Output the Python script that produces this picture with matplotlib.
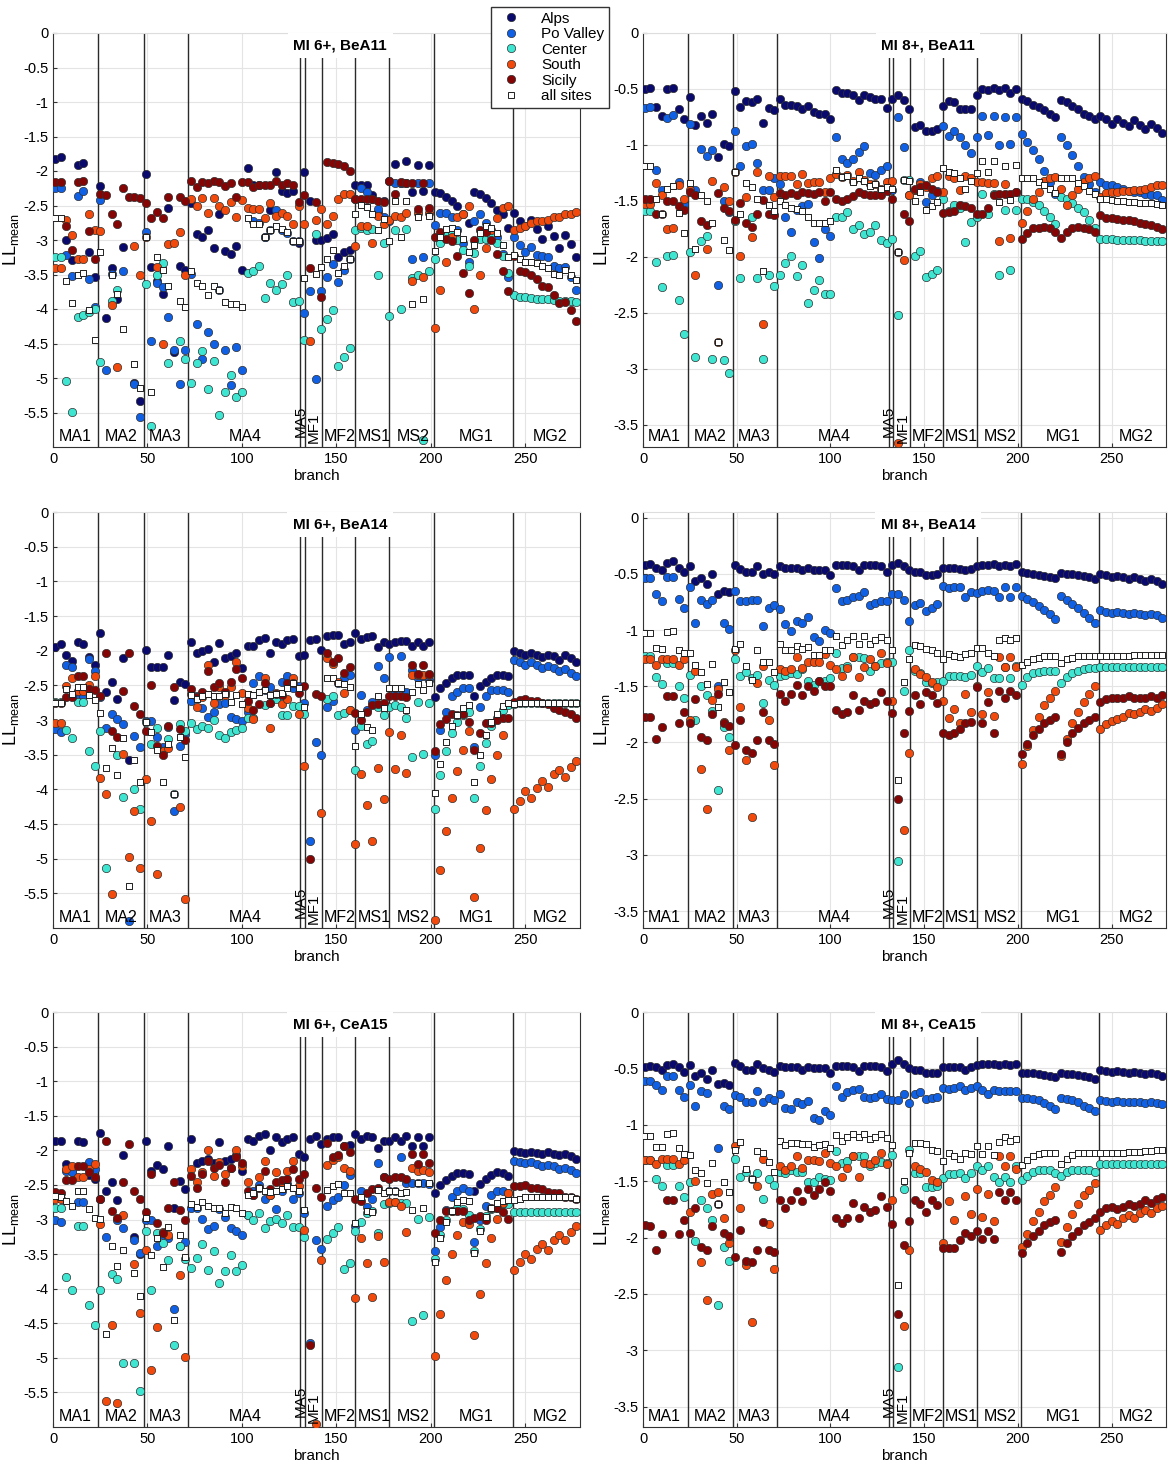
import numpy as np
import matplotlib.pyplot as plt
from matplotlib.lines import Line2D
from matplotlib.ticker import FuncFormatter

nan = np.nan

# branch positions where the log-likelihoods are plotted
branch = np.arange(1, 280, 3)

regions = ['Alps', 'Po Valley', 'Center', 'South', 'Sicily', 'all sites']
region_colors = ['#0a0a6e', '#1060e6', '#3ee6d2', '#f24a0c', '#850505']

group_edges = [24, 48, 71.5, 131, 133.5, 142.5, 160, 178, 201.5, 243.5]
group_names = ['MA1', 'MA2', 'MA3', 'MA4', 'MF2', 'MS1', 'MS2', 'MG1', 'MG2']
group_centers = [11.5, 36, 59.5, 102, 152, 170, 190.5, 224, 263]

# ---------------- MI 6+, BeA11 ----------------
alps_6_bea11 = [-1.83, -1.80, -3.00, -3.29, -1.91, -1.89, -3.18, -3.54,
                -2.22, -4.13, -3.41, -3.85, -3.10, nan, -5.07, -5.33,
                -2.05, -3.39, -3.60, -3.78, -2.54, -4.63, -3.37, -3.43,
                -2.46, -2.92, -2.95, -2.85, -3.12, -2.63, -3.16, -3.20, -3.09, -3.43,
                -1.95, -2.21, -2.20, -2.96, -2.57, -2.01, -2.29, -2.32, -2.29, -3.05,
                -2.01, -2.43, -3.00, -3.00,
                -2.97, -2.91, -3.24, -3.17, -3.14,
                -2.21, -2.20, -2.20, -2.35, -2.59, -2.44,
                -2.15, -1.90, -2.17, -1.86, -2.31, -1.91, -2.29, -1.91,
                -2.31, -2.32, -2.37, -2.43, -2.51, -2.62, -2.75, -2.31, -2.33, -2.39, -2.46, -2.57, -2.63, -2.83,
                -2.61, -2.72, -2.80, -2.71, -2.84, -2.98, -2.80, -2.94, -3.11, -2.93, -3.06, -3.24]
po_6_bea11 = [-2.24, -2.24, -3.22, -3.52, -2.36, -2.29, -3.57, -3.97,
              -2.42, -4.89, -3.49, nan, -3.45, nan, -5.09, -5.56,
              -2.89, -4.47, -3.62, -3.68, -4.11, -4.60, -5.09, -4.59,
              -3.49, -4.22, -4.73, -4.34, -4.51, -3.72, -4.60, -5.10, -4.55, -4.89,
              nan, -2.72, -2.75, -2.96, -2.85, -2.56, -2.85, -2.90, -3.02, -3.02,
              -4.06, -3.74, -5.01, -3.74,
              -3.54, -3.35, -3.61, -3.43, -3.28,
              -2.41, -2.24, -2.31, -2.41, -2.55, -2.66,
              -2.72, -2.18, -2.18, -2.18, -3.28, -2.18, -3.25, -2.18,
              -2.78, -2.61, -2.61, -2.67, -2.85, -3.05, -3.32, -2.73, -2.62, -2.75, -2.90, -2.95, -3.20, -3.54,
              -2.96, -3.07, -3.17, -3.10, -3.22, -3.23, -3.25, -3.37, -3.41, -3.39, -3.54, -3.72]
center_6_bea11 = [-3.24, -3.24, -5.05, -5.49, -4.11, -4.08, -4.05, -4.00,
                  -4.77, nan, -3.88, -3.73, nan, nan, nan, nan,
                  -3.64, -5.69, -3.51, -3.33, -4.78, nan, -4.47, -4.73,
                  -5.07, -4.78, -4.61, -5.16, -4.76, -5.54, -5.20, -4.96, -5.27, -5.20,
                  -3.48, -3.45, -3.37, -3.84, -3.63, -3.72, -3.64, -3.51, -3.90, -3.88,
                  -4.45, nan, -2.92, -4.29,
                  -4.15, -4.01, -4.83, -4.69, -4.56,
                  -2.86, -2.83, -2.85, -2.84, -3.50, -3.04,
                  -4.10, -2.85, -4.00, -2.84, -3.55, -3.50, -5.90, -3.45,
                  -3.27, -3.04, -2.93, -2.90, -3.00, -3.15, -3.37, -3.19, -2.99, -2.98, -2.93, -3.04, -3.23, -3.48,
                  -3.80, -3.82, -3.83, -3.84, -3.85, -3.85, -3.86, -3.87, -3.88, -3.88, -3.89, -3.90]
south_6_bea11 = [-3.41, -3.40, -2.71, -2.93, -3.28, -3.27, -2.63, -2.85,
                 -2.87, nan, -3.94, -4.84, nan, nan, -3.09, -3.50,
                 -2.96, nan, -3.39, -4.50, -3.06, -3.04, -2.89, -3.50,
                 -2.41, -2.50, -2.39, -2.61, -2.39, -2.51, -2.57, -2.45, -2.67, -2.42,
                 -2.54, -2.55, -2.55, -2.68, -2.47, -2.65, -2.61, -2.65, -2.77, -2.50,
                 -2.77, -4.47, -2.71, -2.55,
                 -2.77, -2.65, -2.40, -2.33, -2.34,
                 -3.09, -2.80, -2.80, -3.05, -2.65, -2.77,
                 -2.71, -2.65, -2.67, -2.61, -3.59, -2.61, -3.53, -2.61,
                 -4.28, -3.73, -3.32, -2.95, -2.66, -2.62, -2.51, -4.00, -3.50, -3.12, -2.85, -2.68, -2.54, -2.51,
                 -2.85, -2.83, -2.80, -2.76, -2.73, -2.72, -2.71, -2.66, -2.66, -2.63, -2.63, -2.59]
sicily_6_bea11 = [-2.16, -2.16, -2.80, -3.14, -2.16, -2.14, -2.87, -3.27,
                  -2.34, -2.35, -2.63, -2.77, -2.24, -2.38, -2.37, -2.39,
                  -2.47, -2.68, -2.59, -2.68, -2.38, nan, -2.38, -2.44,
                  -2.15, -2.23, -2.16, -2.17, -2.15, -2.16, -2.22, -2.18, -2.37, -2.16,
                  -2.16, -2.23, -2.20, -2.20, -2.20, -2.15, -2.21, -2.17, -2.21, -2.45,
                  -2.35, -3.40, -2.45, -3.82,
                  -1.87, -1.88, -1.90, -1.93, -2.00,
                  -2.40, -2.41, -2.41, -2.41, -2.43, -2.45,
                  -2.15, -2.34, -2.16, -2.18, -2.18, -2.55, -2.18, -2.54,
                  -2.95, -2.88, -2.99, -3.02, -3.23, -3.48, -3.77, -3.00, -2.85, -2.88, -3.00, -3.20, -3.45, -3.74,
                  -3.23, -3.45, -3.46, -3.50, -3.56, -3.67, -3.68, -3.79, -3.92, -3.90, -4.02, -4.18]
all_6_bea11 = [-2.68, -2.68, -3.59, -3.92, -3.51, -3.48, -4.02, -4.45,
               -3.17, nan, -3.51, -3.78, -4.29, nan, -4.80, -5.15,
               -2.95, -5.20, -3.25, -3.44, -3.67, nan, -3.88, -3.97,
               -3.45, -3.63, -3.67, -3.80, -3.67, -3.72, -3.90, -3.93, -3.93, -3.97,
               -2.68, -2.77, -2.77, -2.96, -2.85, -2.80, -2.84, -2.88, -3.02, -3.02,
               -3.55, nan, -3.49, -3.39,
               -3.27, -3.15, -3.48, -3.37, -3.27,
               -2.63, -2.49, -2.52, -2.63, -2.85, -2.70,
               -3.01, -2.44, -2.96, -2.44, -3.93, -2.67, -3.85, -2.65,
               -3.16, -2.95, -2.84, -2.83, -2.88, -2.99, -3.17, -3.07, -2.90, -2.80, -2.83, -2.90, -3.07, -3.24,
               -3.22, -3.28, -3.32, -3.32, -3.34, -3.38, -3.41, -3.49, -3.50, -3.43, -3.51, -3.58]

# ---------------- MI 8+, BeA11 ----------------
alps_8_bea11 = [-0.50, -0.49, -0.66, -0.74, -0.50, -0.49, -0.68, -0.77,
                -0.57, -0.82, -0.74, -0.80, -0.72, -1.11, -0.99, -1.01,
                -0.52, -0.66, -0.61, -0.62, -0.59, -0.80, -0.67, -0.69,
                -0.59, -0.64, -0.64, -0.65, -0.68, -0.65, -0.71, -0.72, -0.72, -0.77,
                -0.51, -0.54, -0.54, -0.55, -0.60, -0.55, -0.57, -0.59, -0.59, -0.67,
                -0.59, -0.55, -0.60, -0.68,
                -0.84, -0.82, -0.88, -0.88, -0.86,
                -0.65, -0.61, -0.62, -0.68, -0.68, -0.68,
                -0.55, -0.50, -0.51, -0.49, -0.51, -0.49, -0.54, -0.50,
                -0.59, -0.61, -0.64, -0.66, -0.69, -0.72, -0.75, -0.60, -0.62, -0.65, -0.68, -0.72, -0.74, -0.77,
                -0.74, -0.77, -0.81, -0.77, -0.80, -0.83, -0.78, -0.82, -0.86, -0.81, -0.85, -0.89]
po_8_bea11 = [-0.67, -0.66, -1.22, -1.40, -0.76, -0.73, -1.33, -1.53,
              -0.81, -1.40, -1.04, -1.10, -1.05, -2.25, -1.50, -1.60,
              -0.88, -1.19, -1.01, -0.99, -1.16, -1.40, -1.40, -1.30,
              -1.35, -1.64, -1.78, -1.58, -1.55, -1.53, -1.87, -2.01, -1.75, -1.81,
              -0.93, -1.13, -1.16, -1.13, -1.06, -1.01, -1.25, -1.27, -1.22, -1.19,
              -1.40, -0.75, -1.02, -1.45,
              -1.40, -1.33, -1.51, -1.45, -1.41,
              -0.83, -0.92, -0.88, -0.93, -1.00, -1.07,
              -0.93, -0.74, -0.91, -0.74, -1.00, -0.75, -0.99, -0.75,
              -0.90, -0.97, -1.05, -1.13, -1.23, -1.33, -1.44, -0.93, -1.00, -1.09, -1.19, -1.29, -1.35, -1.42,
              -1.33, -1.36, -1.36, -1.38, -1.39, -1.41, -1.42, -1.42, -1.44, -1.45, -1.45, -1.49]
center_8_bea11 = [-1.59, -1.59, -2.05, -2.27, -1.99, -1.98, -2.39, -2.69,
                  -1.96, -2.90, -1.86, -1.81, -2.91, nan, -2.92, -3.04,
                  -1.68, -2.19, nan, -1.64, -2.19, -2.91, -2.16, -2.26,
                  -2.16, -2.06, -1.99, -2.17, -2.07, -2.41, -2.30, -2.21, -2.33, -2.33,
                  -1.64, -1.64, -1.60, -1.75, -1.72, -1.80, -1.78, -1.72, -1.85, -1.88,
                  -1.84, -2.52, -1.31, -1.31,
                  -1.99, -1.95, -2.18, -2.15, -2.12,
                  -1.48, -1.59, -1.54, -1.56, -1.87, -1.69,
                  -1.64, -1.44, -1.62, -1.44, -2.16, -1.58, -2.12, -1.58,
                  -1.48, -1.48, -1.51, -1.54, -1.59, -1.64, -1.71, -1.47, -1.48, -1.52, -1.56, -1.60, -1.67, -1.74,
                  -1.84, -1.84, -1.84, -1.85, -1.85, -1.85, -1.85, -1.85, -1.86, -1.86, -1.86, -1.86]
south_8_bea11 = [-1.53, -1.53, -1.34, -1.45, -1.75, -1.74, -1.36, -1.48,
                 -1.40, -2.16, nan, -1.93, -1.32, -2.76, -1.38, -1.50,
                 -1.24, -1.99, -1.47, -1.82, -1.24, -2.60, -1.28, -1.47,
                 -1.28, -1.28, -1.28, -1.35, -1.26, -1.34, -1.33, -1.33, -1.42, -1.30,
                 -1.26, -1.29, -1.27, -1.32, -1.24, -1.31, -1.35, -1.35, -1.39, -1.33,
                 -1.32, -3.66, -2.03, -1.45,
                 -1.40, -1.35, -1.38, -1.30, -1.28,
                 -1.42, -1.28, -1.30, -1.40, -1.28, -1.30,
                 -1.33, -1.33, -1.34, -1.34, -1.86, -1.35, -1.83, -1.42,
                 -1.70, -1.59, -1.48, -1.42, -1.32, -1.30, -1.29, -1.39, -1.54, -1.45, -1.39, -1.33, -1.30, -1.28,
                 -1.47, -1.43, -1.42, -1.42, -1.41, -1.41, -1.40, -1.40, -1.39, -1.38, -1.36, -1.36]
sicily_8_bea11 = [-1.48, -1.48, -1.62, -1.62, -1.50, -1.50, -1.55, -1.58,
                  -1.42, -1.45, -1.68, -1.72, nan, -1.43, -1.56, -1.59,
                  -1.67, -1.52, -1.70, -1.73, -1.62, -1.49, -1.62, -1.63,
                  -1.43, -1.45, -1.43, -1.45, -1.42, -1.43, -1.44, -1.42, -1.50, -1.42,
                  -1.48, -1.50, -1.48, -1.46, -1.42, -1.44, -1.45, -1.45, -1.45, -1.41,
                  -1.48, -1.96, -1.62, -1.68,
                  -1.39, -1.38, -1.36, -1.39, -1.42,
                  -1.61, -1.60, -1.59, -1.54, -1.55, -1.56,
                  -1.62, -1.62, -1.56, -1.45, -1.44, -1.44, -1.44, -1.42,
                  -1.84, -1.79, -1.74, -1.74, -1.73, -1.74, -1.78, -1.83, -1.78, -1.74, -1.73, -1.74, -1.75, -1.78,
                  -1.63, -1.65, -1.65, -1.66, -1.67, -1.67, -1.68, -1.70, -1.71, -1.72, -1.73, -1.75]
all_8_bea11 = [-1.19, -1.19, -1.48, -1.62, -1.39, -1.37, -1.61, -1.79,
               -1.34, -1.93, -1.45, -1.50, -1.70, -2.76, -1.85, -1.94,
               -1.24, -1.62, -1.34, -1.38, -1.48, -2.13, -1.54, -1.59,
               -1.50, -1.54, -1.56, -1.57, -1.59, -1.64, -1.70, -1.70, -1.70, -1.68,
               -1.22, -1.29, -1.28, -1.33, -1.30, -1.32, -1.37, -1.35, -1.39, -1.38,
               -1.39, -1.96, -1.31, -1.32,
               -1.50, -1.42, -1.58, -1.55, -1.51,
               -1.21, -1.24, -1.25, -1.30, -1.39, -1.32,
               -1.25, -1.14, -1.24, -1.14, -1.51, -1.19, -1.49, -1.18,
               -1.30, -1.30, -1.30, -1.33, -1.36, -1.39, -1.43, -1.30, -1.30, -1.30, -1.34, -1.37, -1.41, -1.44,
               -1.48, -1.48, -1.49, -1.50, -1.50, -1.51, -1.51, -1.52, -1.52, -1.52, -1.53, -1.54]

# ---------------- MI 6+, BeA14 ----------------
alps_6_bea14 = [-1.95, -1.91, -2.06, -2.15, -1.88, -1.90, -2.09, -2.21,
                -1.75, -2.59, -2.45, -2.70, -2.10, -3.57, nan, nan,
                -1.99, -2.24, -2.24, -2.24, -2.06, -2.71, -2.45, -2.48,
                -1.87, -2.04, -2.01, -1.97, -2.16, -1.89, -2.11, -2.08, -2.04, -2.25,
                -1.93, -1.93, -1.84, -1.82, -2.03, -1.88, -1.91, -1.85, -1.83, -2.07,
                -2.06, -1.84, -1.83, -1.99,
                -1.79, -1.78, -1.78, -1.90, -1.88,
                -1.75, -1.83, -1.80, -1.79, -1.95, -1.87,
                -1.90, -1.87, -1.86, -1.86, -1.93, -1.87, -1.93, -1.88,
                -2.67, -2.54, -2.47, -2.40, -2.35, -2.35, -2.35, -2.66, -2.51, -2.45, -2.40, -2.35, -2.35, -2.37,
                -2.01, -2.03, -2.06, -2.03, -2.06, -2.09, -2.06, -2.08, -2.13, -2.06, -2.11, -2.16]
po_6_bea14 = [-3.13, -3.17, -2.20, -2.24, -2.66, -2.66, -2.12, -2.30,
              -2.67, -3.11, -2.91, -2.98, -3.06, -5.90, -3.23, -3.39,
              -3.02, -3.02, -3.24, -3.39, -3.10, -4.31, -3.37, -3.20,
              -2.72, -2.66, -2.83, -2.95, -2.88, -2.77, -2.76, -2.96, -2.98, -3.01,
              -2.88, -2.47, -2.37, -2.57, -2.52, -2.64, -2.45, -2.36, -2.54, -2.51,
              -2.75, -4.74, -3.32, -3.50,
              -2.81, -2.73, -2.46, -2.40, -2.35,
              -3.14, -2.64, -2.86, -2.74, -2.22, -2.40,
              -2.09, -2.60, -2.08, -2.60, -2.28, -2.40, -2.37, -2.42,
              -3.51, -3.14, -2.88, -2.66, -2.59, -2.54, -2.54, -3.39, -2.81, -2.66, -2.57, -2.57, -2.57, -2.60,
              -2.13, -2.16, -2.20, -2.17, -2.20, -2.25, -2.22, -2.25, -2.30, -2.27, -2.32, -2.36]
center_6_bea14 = [-2.74, -2.74, -3.14, -3.26, -2.74, -2.74, -3.45, -3.67,
                  -3.16, -5.14, nan, -3.50, -4.11, nan, -4.00, -4.29,
                  -3.03, -3.34, -3.12, -3.44, -3.27, -4.07, -3.06, -3.16,
                  -3.04, -3.13, -3.09, -3.12, -3.00, -3.21, -3.26, -3.17, -3.15, -3.12,
                  -2.97, -2.97, nan, -2.78, -2.76, -2.69, -2.93, -2.93, -2.80, -2.80,
                  -2.91, nan, nan, nan,
                  -2.69, -2.65, -2.93, -2.90, -2.85,
                  -3.72, -3.08, -3.35, -3.30, -2.81, -2.93,
                  -2.81, -2.79, -2.81, -2.97, -3.54, -2.74, -3.49, -2.75,
                  -4.29, -3.80, -3.45, -3.19, -3.03, -2.93, -2.88, -4.13, -3.67, -3.33, -3.09, -2.97, -2.86, -2.79,
                  -2.77, -2.76, -2.76, -2.76, -2.76, -2.76, -2.76, -2.76, -2.76, -2.76, -2.76, -2.76]
south_6_bea14 = [-3.04, -3.04, -2.51, -2.40, -2.58, -2.58, -2.50, -2.36,
                 -3.83, -4.07, -5.51, nan, -3.49, -4.98, -4.31, -5.14,
                 -3.85, -4.46, -5.22, -3.45, -3.40, nan, -4.26, -5.58,
                 -2.63, -2.81, -2.67, -2.20, -2.76, -2.53, -2.64, -2.53, -2.17, -2.61,
                 -2.82, -2.98, nan, -2.40, -3.12, -2.61, -2.77, -2.69, -2.40, -2.92,
                 -3.66, nan, nan, -4.34,
                 -2.11, -2.19, -2.45, -2.61, -2.86,
                 -4.79, -3.78, -4.22, -4.75, -3.69, -4.14,
                 -3.17, -3.71, -3.21, -3.77, -2.35, -2.35, -2.35, -2.35,
                 -5.89, -5.17, -4.60, -4.13, -3.74, -3.43, -3.16, -5.55, -4.85, -4.30, -3.85, -3.50, -3.21, nan,
                 -4.29, -4.17, -4.03, -4.12, -3.98, -3.88, -3.96, -3.78, -3.72, -3.82, -3.68, -3.59]
sicily_6_bea14 = [-2.75, -2.76, -2.67, -2.67, -2.36, -2.37, -2.56, -2.57,
                  -2.66, -2.04, -3.16, -3.25, -2.58, -2.04, -2.80, -2.92,
                  -3.16, -2.50, -3.37, -3.51, -3.08, -2.53, -3.13, -3.29,
                  -2.56, -2.67, -2.60, -2.29, -2.52, -2.47, -2.59, -2.45, -2.27, -2.40,
                  -2.72, -2.86, -2.77, -2.47, -2.75, -2.62, -2.64, -2.47, -2.47, -2.61,
                  -2.51, -5.00, -2.63, -2.66,
                  -2.03, -2.16, -2.11, -2.32, -2.24,
                  -2.90, -3.00, -2.88, -2.79, -2.77, -2.76,
                  -2.66, -2.66, -2.66, -2.67, -2.20, -2.34, -2.20, -2.34,
                  -3.45, -3.06, -2.98, -2.92, -2.93, -2.92, -3.03, -3.43, -3.19, -3.05, -3.05, -3.00, -2.97, -2.97,
                  -2.74, -2.71, -2.70, -2.72, -2.72, -2.75, -2.77, -2.82, -2.86, -2.88, -2.92, -2.97]
all_6_bea14 = [-2.75, -2.76, -2.56, -2.62, -2.53, -2.53, -2.64, -2.71,
               -2.90, -3.69, -3.40, -3.79, -3.26, -5.40, -3.57, -3.89,
               -3.03, -3.17, -3.43, -3.90, -3.35, -4.07, -3.25, -3.53,
               -2.64, -2.70, -2.66, -2.62, -2.66, -2.66, -2.62, -2.74, -2.64, -2.77,
               -2.62, -2.64, -2.59, -2.57, -2.64, -2.62, -2.61, -2.54, -2.47, -2.54,
               -2.81, nan, nan, nan,
               -2.39, -2.40, -2.46, -2.48, -2.52,
               -3.38, -2.91, -3.10, -3.14, -2.66, -2.83,
               -2.54, -2.54, -2.54, -2.85, -2.59, -2.48, -2.57, -2.47,
               -4.05, -3.63, -3.32, -3.09, -2.93, -2.83, -2.79, -3.90, -3.51, -3.22, -3.03, -2.91, -2.80, -2.75,
               -2.77, -2.76, -2.76, -2.76, -2.76, -2.76, -2.76, -2.76, -2.76, -2.76, -2.76, -2.76]

# ---------------- MI 8+, BeA14 ----------------
alps_8_bea14 = [-0.42, -0.41, -0.45, -0.47, -0.40, -0.39, -0.45, -0.48,
                -0.43, -0.56, -0.54, -0.59, -0.50, -0.68, -0.65, -0.66,
                -0.42, -0.46, -0.48, -0.48, -0.43, -0.50, -0.48, -0.50,
                -0.43, -0.45, -0.45, -0.45, -0.47, -0.45, -0.47, -0.47, -0.47, -0.51,
                -0.42, -0.42, -0.42, -0.43, -0.47, -0.42, -0.42, -0.42, -0.43, -0.48,
                -0.42, -0.40, -0.43, -0.47,
                -0.48, -0.48, -0.51, -0.51, -0.50,
                -0.45, -0.45, -0.45, -0.46, -0.47, -0.46,
                -0.43, -0.42, -0.42, -0.41, -0.43, -0.42, -0.43, -0.41,
                -0.48, -0.49, -0.50, -0.51, -0.52, -0.53, -0.54, -0.49, -0.50, -0.50, -0.51, -0.52, -0.53, -0.55,
                -0.50, -0.51, -0.53, -0.52, -0.53, -0.55, -0.53, -0.55, -0.56, -0.55, -0.56, -0.59]
po_8_bea14 = [-0.54, -0.54, -0.68, -0.74, -0.53, -0.53, -0.72, -0.80,
              -0.62, -0.94, -0.73, -0.77, -0.73, -1.50, -0.94, -0.99,
              -0.65, -0.74, -0.74, -0.73, -0.73, -0.96, -0.80, -0.78,
              -0.81, -0.95, -1.01, -0.92, -0.94, -0.88, -1.06, -1.10, -1.00, -1.03,
              -0.63, -0.74, -0.73, -0.71, -0.70, -0.66, -0.78, -0.76, -0.74, -0.74,
              -0.68, -0.68, -0.73, -0.92,
              -0.78, -0.76, -0.83, -0.80, -0.77,
              -0.61, -0.63, -0.62, -0.62, -0.71, -0.66,
              -0.67, -0.65, -0.64, -0.65, -0.71, -0.62, -0.71, -0.62,
              -0.70, -0.72, -0.75, -0.79, -0.82, -0.86, -0.90, -0.70, -0.73, -0.77, -0.80, -0.85, -0.89, -0.94,
              -0.82, -0.84, -0.85, -0.84, -0.85, -0.86, -0.85, -0.86, -0.87, -0.86, -0.87, -0.89]
center_8_bea14 = [-1.23, -1.23, -1.42, -1.48, -1.29, -1.29, -1.50, -1.60,
                  -1.40, -1.80, -1.50, -1.58, -1.72, -2.42, -1.86, -1.95,
                  -1.26, -1.41, -1.37, -1.43, -1.40, -1.65, -1.44, -1.49,
                  -1.41, -1.40, -1.38, -1.39, -1.35, -1.45, -1.49, -1.45, -1.45, -1.43,
                  -1.20, -1.34, -1.32, -1.24, -1.24, -1.25, -1.36, -1.32, -1.29, -1.28,
                  -1.28, -3.05, -1.54, -1.18,
                  -1.36, -1.38, -1.46, -1.47, -1.46,
                  -1.45, -1.41, -1.41, -1.41, -1.42, -1.40,
                  -1.32, -1.37, -1.34, -1.43, -1.43, -1.33, -1.43, -1.32,
                  -1.49, -1.42, -1.38, -1.37, -1.36, -1.36, -1.36, -1.47, -1.42, -1.38, -1.36, -1.35, -1.34, -1.34,
                  -1.33, -1.33, -1.33, -1.33, -1.33, -1.33, -1.33, -1.33, -1.33, -1.33, -1.33, -1.33]
south_8_bea14 = [-1.26, -1.26, -1.31, -1.26, -1.26, -1.26, -1.31, -1.26,
                 -1.80, -1.36, -2.24, -2.59, -1.62, -1.52, -1.82, -2.07,
                 -1.18, -1.68, -2.16, -2.66, -1.47, -1.32, -1.80, -2.20,
                 -1.35, -1.36, -1.35, -1.24, -1.34, -1.28, -1.28, -1.28, -1.21, -1.31,
                 -1.35, -1.41, -1.34, -1.24, -1.42, -1.33, -1.26, -1.32, -1.20, -1.29,
                 -1.63, nan, -2.78, -2.09,
                 -1.35, -1.39, -1.42, -1.46, -1.51,
                 -1.63, -1.78, -1.70, -1.83, -1.57, -1.73,
                 -1.50, -1.75, -1.55, -1.76, -1.24, -1.33, -1.24, -1.33,
                 -2.19, -2.03, -1.89, -1.77, -1.67, -1.60, -1.54, -2.12, -1.97, -1.83, -1.73, -1.64, -1.57, -1.50,
                 -1.88, -1.84, -1.81, -1.79, -1.77, -1.74, -1.75, -1.73, -1.70, -1.72, -1.69, -1.66]
sicily_8_bea14 = [-1.77, -1.77, -1.97, -1.86, -1.59, -1.59, -1.83, -1.73,
                  -1.83, -1.61, -1.95, -1.98, -1.75, -1.57, -1.83, -1.85,
                  -2.02, -1.80, -2.07, -2.09, -1.98, -1.73, -1.98, -2.01,
                  -1.57, -1.63, -1.57, -1.49, -1.58, -1.50, -1.54, -1.45, -1.50, -1.50,
                  -1.71, -1.75, -1.73, -1.58, -1.71, -1.63, -1.66, -1.64, -1.55, -1.63,
                  -1.74, -2.50, -1.92, -1.72,
                  -1.58, -1.66, -1.55, -1.58, -1.65,
                  -1.92, -1.93, -1.92, -1.88, -1.83, -1.82,
                  -1.51, -1.83, -1.64, -1.92, -1.54, -1.60, -1.54, -1.58,
                  -2.10, -2.01, -1.93, -1.88, -1.83, -1.80, -1.77, -2.10, -2.00, -1.92, -1.87, -1.83, -1.80, -1.77,
                  -1.64, -1.61, -1.60, -1.60, -1.60, -1.59, -1.60, -1.60, -1.60, -1.59, -1.60, -1.58]
all_8_bea14 = [-1.03, -1.03, -1.16, -1.17, -1.02, -1.01, -1.18, -1.20,
               -1.20, -1.31, -1.37, -1.48, -1.30, -1.68, -1.46, -1.55,
               -1.17, -1.12, -1.32, -1.44, -1.18, -1.28, -1.28, -1.37,
               -1.12, -1.18, -1.18, -1.14, -1.17, -1.15, -1.22, -1.22, -1.18, -1.18,
               -1.05, -1.13, -1.09, -1.05, -1.12, -1.05, -1.12, -1.09, -1.06, -1.09,
               -1.18, -2.33, -1.46, -1.26,
               -1.13, -1.14, -1.17, -1.18, -1.20,
               -1.26, -1.21, -1.23, -1.24, -1.21, -1.20,
               -1.16, -1.16, -1.20, -1.23, -1.09, -1.07, -1.09, -1.07,
               -1.31, -1.28, -1.26, -1.25, -1.23, -1.23, -1.23, -1.29, -1.26, -1.25, -1.23, -1.23, -1.23, -1.23,
               -1.23, -1.23, -1.23, -1.23, -1.23, -1.23, -1.22, -1.22, -1.22, -1.22, -1.22, -1.22]

# ---------------- MI 6+, CeA15 ----------------
alps_6_cea15 = [-1.87, -1.86, -2.20, -2.30, -1.86, -1.88, -2.35, -2.41,
                -1.75, -2.59, -2.46, -2.72, -2.07, nan, -3.25, -3.50,
                -1.86, -2.30, -2.21, -2.27, -1.94, -2.83, -2.44, -2.56,
                -1.84, -2.18, -2.15, -2.12, -2.18, -1.88, -2.15, -2.12, -2.07, -2.30,
                -1.84, -1.87, -1.79, -1.76, -2.00, -1.81, -1.88, -1.83, -1.80, -2.06,
                -2.09, -1.83, -1.79, -1.91,
                -1.83, -1.81, -1.81, -1.94, -1.92,
                -1.76, -1.83, -1.79, -1.81, -1.96, -1.86,
                -1.86, -1.81, -1.87, -1.79, -1.94, -1.81, -1.94, -1.81,
                -2.62, -2.50, -2.43, -2.37, -2.33, -2.33, -2.34, -2.59, -2.49, -2.41, -2.35, -2.32, -2.33, -2.37,
                -2.01, -2.03, -2.04, -2.02, -2.04, -2.05, -2.03, -2.05, -2.07, -2.05, -2.08, -2.12]
po_6_cea15 = [-3.01, -3.04, -2.30, -2.31, -2.75, -2.75, -2.17, -2.27,
              -2.70, -3.25, nan, -3.00, -3.12, nan, -3.30, -3.49,
              -3.00, -3.00, -3.39, -3.22, -3.27, -4.29, -3.38, -3.32,
              -2.83, -2.83, -2.99, -3.14, -3.09, -2.85, -2.96, -3.12, -3.16, -3.23,
              -2.94, -2.59, -2.50, -2.71, -2.65, -2.85, -2.59, -2.49, -2.71, -2.62,
              -2.91, -4.79, -3.30, -3.43,
              -2.80, -2.72, -2.67, -2.50, -2.36,
              -3.09, -2.59, -2.82, -2.70, -2.18, -2.38,
              -2.59, -2.59, -2.10, -2.47, -2.47, -2.47, -2.47, -2.49,
              -3.45, -3.11, -2.86, -2.68, -2.59, -2.55, -2.59, -3.33, -3.00, -2.80, -2.64, -2.59, -2.59, -2.62,
              -2.15, -2.17, -2.18, -2.17, -2.20, -2.23, -2.21, -2.23, -2.27, -2.25, -2.28, -2.33]
center_6_cea15 = [-2.83, -2.83, -3.83, -4.02, -3.09, -3.09, -4.24, -4.53,
                  -4.02, nan, -3.79, -3.86, -5.08, nan, -5.08, -5.48,
                  -3.17, -4.02, -3.19, -3.34, -3.59, -4.81, -3.38, -3.57,
                  -3.70, -3.56, -3.36, -3.73, -3.46, -3.92, -3.75, -3.51, -3.75, -3.66,
                  -2.94, -3.00, -2.91, -3.12, -3.02, -2.99, -3.05, -2.94, -3.11, -3.11,
                  -3.25, nan, nan, nan,
                  -3.28, -3.20, -3.11, -3.72, -3.63,
                  -3.16, -3.04, -2.91, -2.88, -3.20, -2.78,
                  -2.76, -2.75, -2.76, -2.76, -4.47, -2.99, -4.38, -2.96,
                  -3.57, -3.23, -3.01, -2.88, -2.84, -2.85, -2.93, -3.46, -3.14, -2.95, -2.85, -2.83, -2.78, -2.78,
                  -2.89, -2.89, -2.89, -2.89, -2.89, -2.89, -2.89, -2.89, -2.89, -2.89, -2.89, -2.89]
south_6_cea15 = [-2.70, -2.70, -2.27, -2.22, -2.38, -2.38, -2.27, -2.20,
                 -3.07, -5.62, -4.53, -5.65, -2.93, nan, -3.64, -4.35,
                 -3.44, -5.17, -4.55, -3.18, -3.22, nan, -3.80, -4.99,
                 -2.27, -2.46, -2.31, -2.00, -2.37, -2.17, -2.34, -2.25, -2.00, -2.23,
                 -2.46, -2.64, -2.39, -2.15, -2.64, -2.31, -2.46, -2.30, -2.16, -2.51,
                 -3.15, nan, -5.95, -3.59,
                 -2.21, -2.14, -2.10, -2.25, -2.30,
                 -4.13, -3.27, -3.63, -4.12, -3.24, -3.62,
                 -2.75, -2.75, -2.80, -3.18, -2.25, -2.30, -2.28, -2.31,
                 -4.98, -4.37, -3.87, -3.50, -3.23, -3.04, -3.07, -4.67, -4.08, -3.63, -3.27, -2.99, -2.76, -2.61,
                 -3.73, -3.61, -3.50, -3.57, -3.43, -3.35, -3.44, -3.30, -3.22, -3.29, -3.18, -3.09]
sicily_6_cea15 = [-2.60, -2.61, -2.43, -2.43, -2.22, -2.22, -2.32, -2.39,
                  -2.70, -1.87, -2.88, -2.98, -2.46, -1.91, -2.59, -2.71,
                  -2.89, -2.34, -3.05, -3.20, -2.83, -2.46, -2.86, -3.00,
                  -2.37, -2.55, -2.34, -2.15, -2.25, -2.21, -2.46, -2.26, -2.10, -2.18,
                  -2.59, -2.64, -2.55, -2.30, -2.56, -2.46, -2.43, -2.42, -2.27, -2.41,
                  -2.34, -4.81, -2.55, -2.67,
                  -1.89, -2.10, -2.07, -1.94, -2.03,
                  -2.71, -2.73, -2.61, -2.56, -2.55, -2.39,
                  -2.41, -2.39, -2.39, -2.41, -2.05, -2.20, -2.05, -2.18,
                  -3.20, -3.01, -2.88, -2.87, -2.87, -2.88, -3.00, -2.98, -2.95, -3.00, -2.84, -2.83, -2.89, -2.99,
                  -2.52, -2.51, -2.50, -2.55, -2.55, -2.56, -2.60, -2.61, -2.62, -2.67, -2.67, -2.70]
all_6_cea15 = [-2.66, -2.68, -2.73, -2.81, -2.59, -2.59, -2.85, -2.98,
               -2.99, -4.65, -3.38, -3.67, -3.44, nan, -3.78, -4.11,
               -2.98, -3.51, -3.27, -3.69, -3.11, -4.45, -3.23, -3.54,
               -2.78, -2.82, -2.75, -2.80, -2.83, -2.84, -2.90, -2.82, -2.84, -2.91,
               -2.64, -2.62, -2.55, -2.59, -2.60, -2.59, -2.56, -2.52, -2.55, -2.59,
               -2.86, nan, nan, nan,
               -2.57, -2.52, -2.49, -2.62, -2.61,
               -3.05, -2.67, -2.88, -2.89, -2.57, -2.61,
               -2.59, -2.59, -2.61, -2.60, -2.86, -2.47, -2.84, -2.47,
               -3.61, -3.27, -3.04, -2.88, -2.75, -2.72, -2.73, -3.49, -3.16, -2.96, -2.83, -2.76, -2.73, -2.72,
               -2.72, -2.70, -2.68, -2.68, -2.68, -2.68, -2.67, -2.67, -2.67, -2.67, -2.68, -2.70]

# ---------------- MI 8+, CeA15 ----------------
alps_8_cea15 = [-0.49, -0.48, -0.49, -0.51, -0.47, -0.46, -0.49, -0.53,
                -0.47, -0.57, -0.54, -0.59, -0.51, -0.64, -0.63, -0.65,
                -0.45, -0.48, -0.51, -0.51, -0.46, -0.50, -0.51, -0.53,
                -0.48, -0.49, -0.49, -0.49, -0.51, -0.49, -0.50, -0.50, -0.50, -0.54,
                -0.48, -0.48, -0.48, -0.49, -0.52, -0.48, -0.48, -0.48, -0.49, -0.52,
                -0.46, -0.43, -0.46, -0.50,
                -0.51, -0.51, -0.54, -0.54, -0.54,
                -0.49, -0.49, -0.49, -0.49, -0.51, -0.49,
                -0.47, -0.46, -0.46, -0.46, -0.47, -0.46, -0.47, -0.46,
                -0.54, -0.54, -0.54, -0.55, -0.56, -0.57, -0.58, -0.54, -0.55, -0.55, -0.56, -0.57, -0.58, -0.59,
                -0.51, -0.52, -0.53, -0.52, -0.53, -0.54, -0.53, -0.54, -0.55, -0.54, -0.55, -0.57]
po_8_cea15 = [-0.61, -0.61, -0.65, -0.69, -0.57, -0.57, -0.69, -0.75,
              -0.65, -0.83, -0.70, -0.72, nan, -1.21, -0.83, -0.86,
              -0.74, -0.75, -0.80, -0.80, -0.70, -0.80, -0.76, -0.78,
              -0.73, -0.85, -0.86, -0.80, -0.82, -0.79, -0.94, -0.96, -0.88, -0.91,
              -0.66, -0.75, -0.71, -0.69, -0.68, -0.75, -0.76, -0.75, -0.73, -0.77,
              -0.78, -0.78, -0.73, -0.81,
              -0.73, -0.71, -0.77, -0.76, -0.75,
              -0.67, -0.68, -0.67, -0.66, -0.69, -0.67,
              -0.66, -0.69, -0.73, -0.69, -0.70, -0.70, -0.70, -0.70,
              -0.76, -0.76, -0.77, -0.78, -0.81, -0.83, -0.86, -0.76, -0.77, -0.78, -0.80, -0.83, -0.85, -0.88,
              -0.78, -0.79, -0.80, -0.79, -0.80, -0.80, -0.80, -0.80, -0.81, -0.80, -0.81, -0.82]
center_8_cea15 = [-1.31, -1.31, -1.48, -1.54, -1.36, -1.36, -1.54, -1.64,
                  -1.51, -2.03, -1.67, -1.74, -1.84, -2.60, -2.08, -2.21,
                  -1.30, -1.46, -1.42, -1.48, -1.43, -1.66, -1.48, -1.53,
                  -1.42, -1.43, -1.40, -1.42, -1.42, -1.51, -1.51, -1.46, -1.48, -1.49,
                  -1.23, -1.34, -1.32, -1.28, -1.28, -1.28, -1.37, -1.34, -1.33, -1.34,
                  -1.27, -3.15, -1.57, -1.22,
                  -1.43, -1.43, -1.55, -1.55, -1.54,
                  -1.47, -1.44, -1.44, -1.43, -1.47, -1.43,
                  -1.37, -1.40, -1.37, -1.46, -1.51, -1.46, -1.51, -1.37,
                  -1.49, -1.45, -1.42, -1.40, -1.40, -1.40, -1.43, -1.45, -1.42, -1.40, -1.40, -1.40, -1.40, -1.42,
                  -1.35, -1.35, -1.35, -1.35, -1.35, -1.35, -1.35, -1.35, -1.35, -1.35, -1.35, -1.35]
south_8_cea15 = [-1.31, -1.31, -1.35, -1.30, -1.30, -1.30, -1.35, -1.31,
                 -1.77, -1.50, -2.22, -2.55, -1.61, -1.60, -1.83, -2.05,
                 -1.19, -1.74, -2.24, -2.75, -1.54, -1.30, -1.88, -2.28,
                 -1.37, -1.40, -1.37, -1.28, -1.38, -1.31, -1.31, -1.32, -1.25, -1.34,
                 -1.37, -1.46, -1.38, -1.28, -1.46, -1.34, -1.35, -1.31, -1.25, -1.35,
                 -1.67, nan, -2.78, -2.11,
                 -1.37, -1.39, -1.42, -1.49, -1.51,
                 -2.05, -1.68, -1.84, nan, -1.63, -1.79,
                 -1.57, -1.82, -1.61, -1.85, -1.28, -1.37, -1.28, -1.39,
                 -2.08, -1.97, -1.85, -1.77, -1.68, -1.62, -1.55, -2.04, -1.91, -1.79, -1.70, -1.62, -1.58, -1.52,
                 -1.93, -1.89, -1.85, -1.88, -1.83, -1.80, -1.83, -1.78, -1.76, -1.78, -1.74, -1.72]
sicily_8_cea15 = [-1.89, -1.90, -2.11, -1.97, -1.67, -1.67, -1.97, -1.84,
                  -1.96, -1.74, -2.08, -2.11, -1.90, -1.70, -1.96, -1.99,
                  -2.17, -1.93, -2.21, -2.22, -2.11, -1.86, -2.11, -2.13,
                  -1.67, -1.74, -1.67, -1.59, -1.68, -1.57, -1.62, -1.57, -1.51, -1.59,
                  -1.83, -1.87, -1.83, -1.69, -1.83, -1.73, -1.77, -1.76, -1.63, -1.73,
                  -1.88, -2.68, -2.07, -1.85,
                  -1.67, -1.70, -1.77, -1.67, -1.71,
                  -2.09, -2.09, -2.09, -2.02, -1.96, -1.99,
                  -1.94, -2.01, -1.94, -2.01, -1.60, -1.67, -1.60, -1.67,
                  -2.14, -2.05, -1.99, -1.94, -1.89, -1.86, -1.84, -2.13, -2.05, -1.99, -1.94, -1.89, -1.86, -1.83,
                  -1.77, -1.74, -1.73, -1.75, -1.73, -1.70, -1.72, -1.70, -1.67, -1.69, -1.66, -1.64]
all_8_cea15 = [-1.10, -1.10, -1.20, -1.20, -1.08, -1.07, -1.21, -1.26,
               -1.27, -1.40, -1.43, -1.52, -1.34, -1.70, -1.51, -1.60,
               -1.22, -1.15, -1.39, -1.48, -1.23, -1.25, -1.33, -1.42,
               -1.14, -1.18, -1.16, -1.16, -1.17, -1.17, -1.20, -1.18, -1.17, -1.21,
               -1.09, -1.14, -1.11, -1.08, -1.11, -1.08, -1.13, -1.11, -1.08, -1.12,
               -1.18, -2.42, -1.50, -1.25,
               -1.16, -1.16, -1.17, -1.22, -1.23,
               -1.32, -1.25, -1.28, -1.30, -1.25, -1.26,
               -1.19, -1.26, -1.19, -1.27, -1.15, -1.11, -1.14, -1.13,
               -1.36, -1.31, -1.28, -1.26, -1.25, -1.25, -1.25, -1.35, -1.30, -1.27, -1.25, -1.25, -1.25, -1.25,
               -1.25, -1.25, -1.25, -1.25, -1.25, -1.24, -1.24, -1.24, -1.23, -1.23, -1.22, -1.22]

panels = [
    ('MI 6+, BeA11', [alps_6_bea11, po_6_bea11, center_6_bea11, south_6_bea11, sicily_6_bea11, all_6_bea11], (-6.0, 0.0)),
    ('MI 8+, BeA11', [alps_8_bea11, po_8_bea11, center_8_bea11, south_8_bea11, sicily_8_bea11, all_8_bea11], (-3.70, 0.0)),
    ('MI 6+, BeA14', [alps_6_bea14, po_6_bea14, center_6_bea14, south_6_bea14, sicily_6_bea14, all_6_bea14], (-6.0, 0.0)),
    ('MI 8+, BeA14', [alps_8_bea14, po_8_bea14, center_8_bea14, south_8_bea14, sicily_8_bea14, all_8_bea14], (-3.65, 0.05)),
    ('MI 6+, CeA15', [alps_6_cea15, po_6_cea15, center_6_cea15, south_6_cea15, sicily_6_cea15, all_6_cea15], (-6.0, 0.0)),
    ('MI 8+, CeA15', [alps_8_cea15, po_8_cea15, center_8_cea15, south_8_cea15, sicily_8_cea15, all_8_cea15], (-3.68, 0.0)),
]

plt.rcParams['font.family'] = ['Liberation Sans', 'DejaVu Sans']
plt.rcParams['mathtext.fontset'] = 'custom'
plt.rcParams['mathtext.rm'] = 'Liberation Sans'
plt.rcParams['mathtext.it'] = 'Liberation Sans'
plt.rcParams['axes.unicode_minus'] = False

W, H = 1168, 1464
fig = plt.figure(figsize=(W / 100, H / 100), dpi=100)

# axes boxes in pixels: (left, right) and (top, bottom)
col_px = [(53, 580), (643, 1166)]
row_px = [(33, 447), (512, 928), (1012, 1427)]

fmt = FuncFormatter(lambda v, p: '%g' % v)

for i, (title, series, ylim) in enumerate(panels):
    r, c = divmod(i, 2)
    x0, x1 = col_px[c]
    y0, y1 = row_px[r]
    ax = fig.add_axes([x0 / W, 1 - y1 / H, (x1 - x0) / W, (y1 - y0) / H])

    for vals, col in zip(series[:5], region_colors):
        ax.scatter(branch, vals, s=36, c=col, edgecolors='#303030', linewidths=0.5, zorder=3)
    ax.scatter(branch, series[5], s=20, marker='s', facecolors='white',
               edgecolors='#202020', linewidths=0.7, zorder=4)

    for e in group_edges:
        ax.axvline(e, color='#2a2a2a', lw=1.0, zorder=2)

    ax.set_xlim(0, 279)
    ax.set_ylim(*ylim)
    ax.set_xticks([0, 50, 100, 150, 200, 250])
    ymin = -5.5 if ylim[0] < -4 else -3.5
    ax.set_yticks(np.arange(0, ymin - 0.01, -0.5))
    ax.yaxis.set_major_formatter(fmt)
    ax.grid(True, color='#e4e4e4', lw=0.8, zorder=0)
    ax.set_axisbelow(True)
    ax.tick_params(direction='in', length=3, labelsize=10.5, color='#333333')
    for side in ['left', 'bottom', 'right']:
        ax.spines[side].set_color('#333333')
        ax.spines[side].set_linewidth(0.8)
    ax.spines['top'].set_color('#dddddd')
    ax.set_xlabel('branch', fontsize=11, labelpad=2)
    ax.set_ylabel(r'LL$_{\mathrm{mean}}$', fontsize=13, labelpad=1)

    trans = ax.get_xaxis_transform()
    for name, xc in zip(group_names, group_centers):
        ax.text(xc, 0.008, name, transform=trans, ha='center', va='bottom', fontsize=11.5, zorder=5)
    ax.text(131.0, 0.024, 'MA5', transform=trans, ha='center', va='bottom', rotation=90, fontsize=11, zorder=5)
    ax.text(138.3, 0.010, 'MF1', transform=trans, ha='center', va='bottom', rotation=90, fontsize=11, zorder=5)

    ax.text(0.545, 0.971, title, transform=ax.transAxes, ha='center', va='center',
            fontsize=11, fontweight='bold', zorder=6,
            bbox=dict(facecolor='white', edgecolor='none', pad=4))

handles = [Line2D([], [], ls='none', marker='o', ms=6, mfc=col, mec='#303030', mew=0.5)
           for col in region_colors]
handles.append(Line2D([], [], ls='none', marker='s', ms=5, mfc='white', mec='#202020', mew=0.7))
fig.legend(handles, regions, loc='upper left', bbox_to_anchor=(491 / W, 1 - 7 / H),
           fontsize=11, frameon=True, fancybox=False, framealpha=1, edgecolor='#333333',
           borderpad=0.3, labelspacing=0.1, handlelength=2.0, handletextpad=1.0, borderaxespad=0)

fig.savefig('out.png', dpi=100)
